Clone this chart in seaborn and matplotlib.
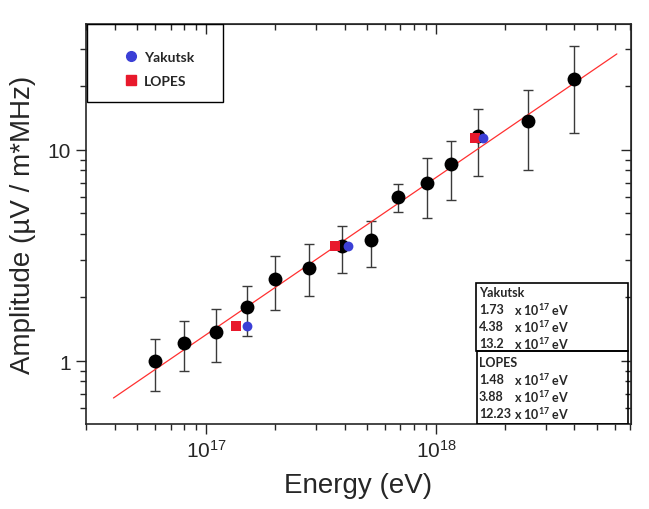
import matplotlib
matplotlib.use("Agg")
import matplotlib.pyplot as plt
import matplotlib.ticker as mticker
import seaborn as sns
import pandas as pd
from matplotlib.patches import Rectangle
from matplotlib.lines import Line2D

# values
energy = [6.0e16, 8.0e16, 1.1e17, 1.5e17, 2.0e17, 2.8e17, 3.9e17, 5.2e17,
          6.8e17, 9.1e17, 1.16e18, 1.52e18, 2.51e18, 3.98e18]
amplitude = [1.0, 1.22, 1.37, 1.8, 2.45, 2.76, 3.51, 3.74,
             5.99, 6.97, 8.6, 11.66, 13.7, 21.7]
amp_upper = [1.27, 1.55, 1.76, 2.27, 3.14, 3.58, 4.36, 4.6,
             6.9, 9.15, 11.0, 15.6, 19.2, 31.0]
amp_lower = [0.72, 0.9, 0.99, 1.31, 1.74, 2.03, 2.61, 2.79,
             5.08, 4.76, 5.8, 7.5, 8.0, 12.0]

yakutsk_energy = [1.5e17, 4.14e17, 1.6e18]
yakutsk_amp = [1.47, 3.51, 11.4]
lopes_energy = [1.35e17, 3.64e17, 1.48e18]
lopes_amp = [1.47, 3.5, 11.4]

fit_energy = [3.95e16, 6.12e18]
fit_amp = [0.668, 28.5]

yakutsk_rows = ["1.73", "4.38", "13.2"]
lopes_rows = ["1.48", "3.88", "12.23"]

sns.set_style("ticks")
plt.rcParams["font.family"] = ["Liberation Sans", "DejaVu Sans"]
plt.rcParams["mathtext.default"] = "regular"

fig = plt.figure(figsize=(6.49, 5.1), dpi=100)
ax = fig.add_axes([86 / 649, 85 / 510, 545 / 649, 400 / 510])
ax.set_xscale("log")
ax.set_yscale("log")

main = pd.DataFrame({"E": energy, "A": amplitude})
lo = [a - l for a, l in zip(amplitude, amp_lower)]
hi = [u - a for a, u in zip(amplitude, amp_upper)]

# error bars
ax.errorbar(energy, amplitude, yerr=[lo, hi], fmt="none", ecolor="#3a3a3a",
            elinewidth=1.0, capsize=3.5, capthick=1.0, zorder=1)

# fit line
sns.lineplot(x=fit_energy, y=fit_amp, color="#ff3030", linewidth=0.9, ax=ax, zorder=2)

sns.scatterplot(data=main, x="E", y="A", color="black", s=100, edgecolor="black",
                linewidth=0, ax=ax, zorder=3)
sns.scatterplot(x=lopes_energy, y=lopes_amp, marker="s", color="#e8192c", s=48,
                linewidth=0, ax=ax, zorder=4)
sns.scatterplot(x=yakutsk_energy, y=yakutsk_amp, marker="o", color="#3b3fd6", s=50,
                linewidth=0, ax=ax, zorder=5)

ax.set_xlim(3.0e16, 7.05e18)
ax.set_ylim(0.503, 39.5)

ax.set_xlabel("Energy (eV)", fontsize=20, labelpad=8)
ax.set_ylabel("Amplitude (µV / m*MHz)", fontsize=20, labelpad=8)
ax.yaxis.set_major_formatter(mticker.FuncFormatter(lambda v, p: f"{v:g}"))

for s in ax.spines.values():
    s.set_linewidth(1.2)
    s.set_visible(True)
ax.tick_params(which="major", direction="out", length=7, width=1.0, labelsize=15, pad=4)
ax.tick_params(which="minor", direction="out", length=4, width=1.0)

top = ax.secondary_xaxis("top")
top.tick_params(which="major", direction="in", length=7, width=1.0, labeltop=False)
top.tick_params(which="minor", direction="in", length=4, width=1.0)
right = ax.secondary_yaxis("right")
right.tick_params(which="major", direction="in", length=7, width=1.0, labelright=False)
right.tick_params(which="minor", direction="in", length=4, width=1.0)

# legend box in the upper left corner
ax.add_patch(Rectangle((0.002, 0.805), 0.249, 0.195, transform=ax.transAxes,
                       fill=False, edgecolor="black", linewidth=1.0, zorder=6))
handles = [
    Line2D([], [], marker="o", linestyle="none", color="#3b3fd6", markersize=7),
    Line2D([], [], marker="s", linestyle="none", color="#e8192c", markersize=7),
]
ax.legend(handles, ["Yakutsk", "LOPES"], loc="upper left",
          bbox_to_anchor=(0.047, 0.965), frameon=False, handlelength=1.0,
          handletextpad=0.4, labelspacing=0.9,
          prop={"family": "Lato", "weight": "bold", "size": 10})

# energy tables in the lower right corner
ax.add_patch(Rectangle((0.7156, 0.1825), 0.279, 0.17, transform=ax.transAxes,
                       fill=False, edgecolor="black", linewidth=1.2, zorder=6))
ax.add_patch(Rectangle((0.7174, 0.0), 0.277, 0.1825, transform=ax.transAxes,
                       fill=False, edgecolor="black", linewidth=1.2, zorder=6))

tkw = dict(transform=ax.transAxes, family="Lato", weight="bold", fontsize=9,
           va="center", ha="left", zorder=7)
x0 = (479 - 86) / 545
dx = (514 - 479) / 545
ax.text(x0, (425 - 293) / 400, "Yakutsk", **tkw)
for i, v in enumerate(yakutsk_rows):
    yy = (425 - (310 + 17 * i)) / 400
    ax.text(x0, yy, v, **tkw)
    ax.text(x0 + dx, yy, r"x 10$^{17}$ eV", **tkw)
ax.text(x0, (425 - 363) / 400, "LOPES", **tkw)
for i, v in enumerate(lopes_rows):
    yy = (425 - (380 + 17 * i)) / 400
    ax.text(x0, yy, v, **tkw)
    ax.text(x0 + dx, yy, r"x 10$^{17}$ eV", **tkw)

fig.savefig("out.png", dpi=100)
